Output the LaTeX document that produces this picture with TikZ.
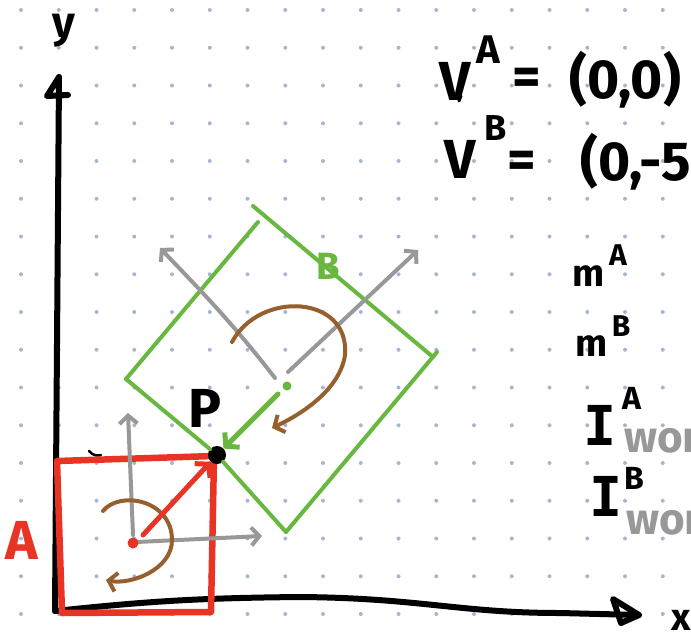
\documentclass[tikz,border=0pt]{standalone}
\usepackage{fontspec}
\setmainfont{Fira Sans}
\newfontfamily\slabfont{DejaVu Sans Mono}
\usetikzlibrary{arrows.meta}
\definecolor{dotc}{RGB}{165,182,212}
\definecolor{redA}{RGB}{232,52,36}
\definecolor{greenB}{RGB}{104,184,64}
\definecolor{greyF}{RGB}{152,152,152}
\definecolor{brownS}{RGB}{150,96,46}
\tikzset{
  axis/.style  = {line width=6pt, line cap=round, line join=round},
  bodyA/.style = {line width=6.5pt, draw=redA, line join=round, line cap=round},
  bodyB/.style = {line width=4pt, draw=greenB, line cap=round},
  frame/.style = {line width=4pt, draw=greyF, line cap=round, -{Straight Barb[length=8pt,width=18pt]}},
  spin/.style  = {line width=4pt, draw=brownS, line cap=round, -{Straight Barb[length=8pt,width=19pt]}},
  push/.style  = {line cap=round, -{Straight Barb[length=9pt,width=21pt]}},
  hand/.style  = {inner sep=0, font=\bfseries\fontsize{55}{55}\selectfont},
  hsup/.style  = {inner sep=0, font=\bfseries\fontsize{40}{40}\selectfont},
  small/.style = {inner sep=0, font=\bfseries\fontsize{38}{38}\selectfont},
  world/.style = {inner sep=0, anchor=west, text=greyF, font=\bfseries\fontsize{44}{44}\selectfont}
}

\begin{document}
\begin{tikzpicture}[x=1pt,y=-1pt]
  \useasboundingbox (0,0) rectangle (691,635);
  % dot grid
  \foreach \i in {0,...,17}
    \foreach \j in {0,...,16}
      \fill[dotc] (21+37.75*\i,10+37.75*\j) circle (2);

  % axes
  \coordinate (O) at (55,611);
  \coordinate (ytip) at (59,77);
  \coordinate (xtip) at (639,615);
  \draw[axis] (O) -- (ytip) -- (47,96) -- (68,95);
  \draw[axis] (O) .. controls (150,601) and (200,598) .. (300,597) .. controls (420,598) and (460,613) .. (560,613) -- (xtip);
  \draw[axis] (613,599) -- (xtip) -- (621,623) -- cycle;
  \node[hand, font=\bfseries\fontsize{44}{44}\selectfont] (ylab) at (64,31) {y};
  \node[small] (xlab) at (681,620) {x};
  \draw[axis, line width=2.5pt] (89,451) .. controls (93,456) and (98,456) .. (101,455);

  % body A
  \coordinate (cA) at (133,543);
  \draw[bodyA] (57,461) -- (214,456) -- (211,612) -- (62,613) -- cycle;
  \node[hand, text=redA] (labA) at (22,540) {A};

  % body B
  \coordinate (cB) at (287,386);
  \coordinate (Bt) at (253,206);
  \coordinate (Br) at (433,357);
  \coordinate (Bb) at (286,532);
  \coordinate (Bl) at (126,379);
  \node[circle, fill=black, minimum size=18pt, inner sep=0] (P) at (217,455) {};
  \draw[bodyB] (Bl) -- (258,222);
  \draw[bodyB] (Bt) -- (Br);
  \draw[bodyB] (437,352) -- (Bb);
  \draw[bodyB] (Bl) -- (P) -- (Bb);
  \node[small, text=greenB] (labB) at (328,266) {B};
  \node[hand] (labP) at (205,408) {P};

  % frames
  \draw[frame] (cA) ++(0,-8) -- (128,413);
  \draw[frame] (cA) ++(4,-1) -- (262,536);
  \draw[frame] (275,378) .. controls (230,320) and (200,290) .. (160,248);
  \draw[frame] (288,372) -- (418,250);

  % spins
  \draw[spin] (103,511) .. controls (120,490) and (172,500) .. (172,540) .. controls (172,570) and (130,585) .. (106,580);
  \draw[spin] (232,342) .. controls (260,290) and (350,295) .. (345,355) .. controls (340,390) and (300,415) .. (272,428);

  % centres and pushes
  \fill[redA] (cA) circle (5.5);
  \fill[greenB] (cB) circle (4.5);
  \draw[push, redA, line width=5pt] (143,535) -- (P);
  \draw[push, greenB, line width=5pt] (278,394) -- (P);

  % quantities
  \node[hand] (vA) at (455,81) {V};
  \draw[axis, line width=3pt] (461,96) -- (459,101);
  \node[hsup] (vAs) at (488,50) {A};
  \node[hand] (vAeq) at (527,82) {=};
  \node[hand] (vAval) at (625,80) {(0,0)};
  \node[hand] (vB) at (460,159) {V};
  \node[hsup, font=\bfseries\fontsize{36}{36}\selectfont] (vBs) at (496,128) {B};
  \node[hand] (vBeq) at (522,165) {=};
  \node[hand, anchor=west] (vBval) at (580,162) {(0,-5)};
  \node[small] (mA) at (589,276) {m};
  \node[hsup, font=\bfseries\fontsize{30}{30}\selectfont] (mAs) at (618,255) {A};
  \node[small] (mB) at (592,346) {m};
  \node[hsup, font=\bfseries\fontsize{30}{30}\selectfont] (mBs) at (621,326) {B};
  \node[hand, font=\slabfont\bfseries\fontsize{55}{55}\selectfont] (IA) at (600,425) {I};
  \node[hsup, font=\bfseries\fontsize{32}{32}\selectfont] (IAs) at (632,398) {A};
  \node[world] (IAw) at (624,436) {world};
  \node[hand, font=\slabfont\bfseries\fontsize{55}{55}\selectfont] (IB) at (606,496) {I};
  \node[hsup, font=\bfseries\fontsize{32}{32}\selectfont] (IBs) at (634,478) {B};
  \node[world] (IBw) at (626,518) {world};
\end{tikzpicture}
\end{document}
